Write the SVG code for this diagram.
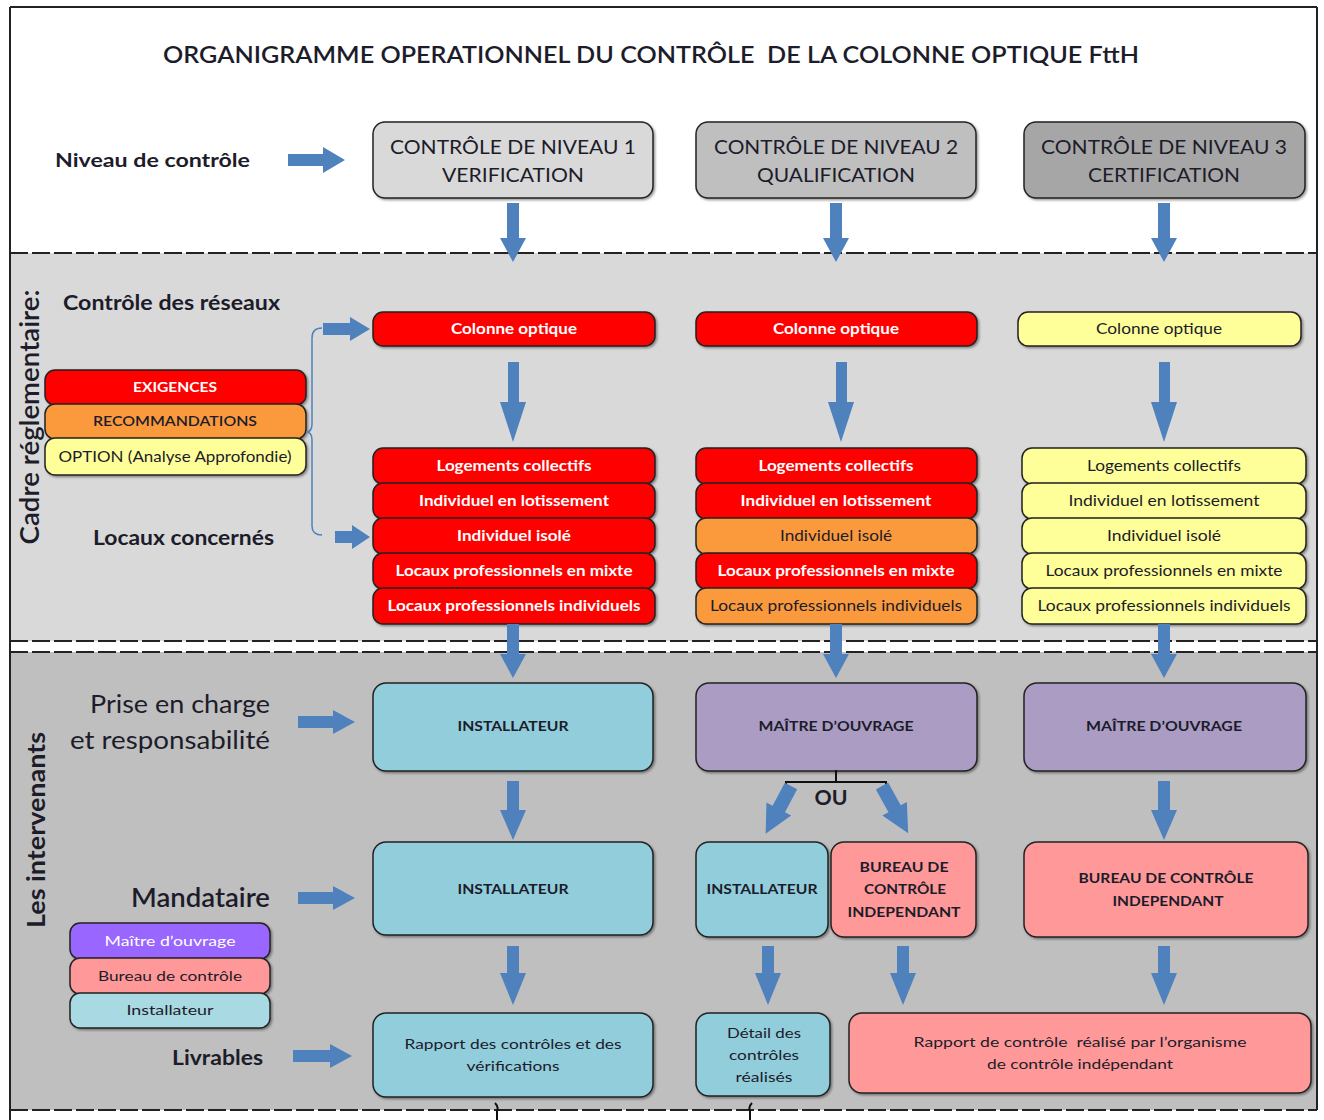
<svg xmlns="http://www.w3.org/2000/svg" width="1324" height="1120" viewBox="0 0 1324 1120">
<defs>
<filter id="sh" x="-5%" y="-10%" width="110%" height="130%">
<feDropShadow dx="1.5" dy="1.5" stdDeviation="1" flood-color="#000" flood-opacity="0.4"/>
</filter>
<style>
.t{font-family:Lato,"Liberation Sans",sans-serif;fill:#1c1c2a;text-anchor:middle}
.s{text-anchor:start}
.e{text-anchor:end}
.w{fill:#fff}
.b{font-weight:bold}
.m{font-weight:600}
.bx{stroke:#222;stroke-width:1.5;filter:url(#sh)}
.lv1{fill:#d9d9d9}.lv2{fill:#bfbfbf}.lv3{fill:#a6a6a6}
.red{fill:#ff0000}.org{fill:#fa9a3c}.yel{fill:#ffff99}
.inst{fill:#92cddc}.mo{fill:#ab9cc4}.bc{fill:#ff9999}
.legP{fill:#9966ff}.legB{fill:#a9d9e3}
.arr{fill:#4f81bd}
.dash{stroke:#222;stroke-width:2;stroke-dasharray:18 4;fill:none}
.frame{stroke:#222;stroke-width:2;fill:none}
</style>
</defs>

<!-- backgrounds -->
<rect x="0" y="0" width="1324" height="1120" fill="#fff"/>
<rect x="10" y="253" width="1307" height="388" fill="#d9d9d9"/>
<rect x="10" y="652" width="1307" height="458" fill="#bfbfbf"/>
<path class="frame" d="M10 7 H1317 M10 7 V1120 M1317 7 V1110"/>
<path class="dash" d="M10 253 H1317 M10 641 H1317 M10 652 H1317 M10 1110 H1317"/>
<path d="M495 1103 Q499 1107 497 1111 L497 1120 M752 1103 Q748 1107 750 1111 L750 1120" stroke="#111" stroke-width="2" fill="none"/>

<!-- title and side labels -->
<g id="labels">
<text class="t m" x="651" y="63" font-size="23" textLength="976" lengthAdjust="spacingAndGlyphs" style="white-space:pre">ORGANIGRAMME OPERATIONNEL DU CONTRÔLE  DE LA COLONNE OPTIQUE FttH</text>
<text class="t s b" x="55" y="167" font-size="19" textLength="195" lengthAdjust="spacingAndGlyphs">Niveau de contrôle</text>
<text class="t m" transform="translate(39 417) rotate(-90)" font-size="27" textLength="255" lengthAdjust="spacingAndGlyphs">Cadre réglementaire:</text>
<text class="t s b" x="63" y="310" font-size="20" textLength="217" lengthAdjust="spacingAndGlyphs">Contrôle des réseaux</text>
<text class="t s b" x="93" y="545" font-size="21" textLength="181" lengthAdjust="spacingAndGlyphs">Locaux concernés</text>
<text class="t b" transform="translate(45 830) rotate(-90)" font-size="25" textLength="196" lengthAdjust="spacingAndGlyphs">Les intervenants</text>
<text class="t e" x="270" y="713" font-size="25" textLength="180" lengthAdjust="spacingAndGlyphs">Prise en charge</text>
<text class="t e" x="270" y="749" font-size="25" textLength="200" lengthAdjust="spacingAndGlyphs">et responsabilité</text>
<text class="t e m" x="270" y="907" font-size="27" textLength="139" lengthAdjust="spacingAndGlyphs">Mandataire</text>
<text class="t e b" x="263" y="1065" font-size="20" textLength="91" lengthAdjust="spacingAndGlyphs">Livrables</text>
<text class="t b" x="831" y="805" font-size="21" textLength="33" lengthAdjust="spacingAndGlyphs">OU</text>
</g>

<!-- legend: cadre reglementaire -->
<g id="legend-exigences">
<rect class="bx red" x="45" y="370" width="261" height="35" rx="10"/>
<text class="t w b" x="175" y="392" font-size="14" textLength="84" lengthAdjust="spacingAndGlyphs">EXIGENCES</text>
</g>
<g id="legend-recommandations">
<rect class="bx org" x="45" y="404" width="261" height="35" rx="10"/>
<text class="t m" x="175" y="426" font-size="14" textLength="164" lengthAdjust="spacingAndGlyphs">RECOMMANDATIONS</text>
</g>
<g id="legend-option">
<rect class="bx yel" x="45" y="438" width="261" height="37" rx="10"/>
<text class="t" x="175" y="462" font-size="15" textLength="233" lengthAdjust="spacingAndGlyphs">OPTION (Analyse Approfondie)</text>
</g>

<!-- legend: intervenants -->
<g id="legend-mo">
<rect class="bx legP" x="70" y="923" width="200" height="36" rx="10"/>
<text class="t w" x="170" y="946" font-size="14" textLength="131" lengthAdjust="spacingAndGlyphs">Maître d’ouvrage</text>
</g>
<g id="legend-bc">
<rect class="bx bc" x="70" y="958" width="200" height="36" rx="10"/>
<text class="t" x="170" y="981" font-size="14" textLength="144" lengthAdjust="spacingAndGlyphs">Bureau de contrôle</text>
</g>
<g id="legend-inst">
<rect class="bx legB" x="70" y="993" width="200" height="35" rx="10"/>
<text class="t" x="170" y="1015" font-size="14" textLength="87" lengthAdjust="spacingAndGlyphs">Installateur</text>
</g>

<!-- level boxes -->
<g id="niveau1">
<rect class="bx lv1" x="373" y="122" width="280" height="76" rx="12"/>
<text class="t" x="513" y="154" font-size="20" textLength="246" lengthAdjust="spacingAndGlyphs">CONTRÔLE DE NIVEAU 1</text>
<text class="t" x="513" y="182" font-size="20" textLength="142" lengthAdjust="spacingAndGlyphs">VERIFICATION</text>
</g>
<g id="niveau2">
<rect class="bx lv2" x="696" y="122" width="280" height="76" rx="12"/>
<text class="t" x="836" y="154" font-size="20" textLength="244" lengthAdjust="spacingAndGlyphs">CONTRÔLE DE NIVEAU 2</text>
<text class="t" x="836" y="182" font-size="20" textLength="158" lengthAdjust="spacingAndGlyphs">QUALIFICATION</text>
</g>
<g id="niveau3">
<rect class="bx lv3" x="1024" y="122" width="281" height="76" rx="12"/>
<text class="t" x="1164" y="154" font-size="20" textLength="246" lengthAdjust="spacingAndGlyphs">CONTRÔLE DE NIVEAU 3</text>
<text class="t" x="1164" y="182" font-size="20" textLength="152" lengthAdjust="spacingAndGlyphs">CERTIFICATION</text>
</g>

<!-- colonne optique -->
<g id="colonne1">
<rect class="bx red" x="373" y="312" width="282" height="34" rx="10"/>
<text class="t w b" x="514" y="334" font-size="15" textLength="126" lengthAdjust="spacingAndGlyphs">Colonne optique</text>
</g>
<g id="colonne2">
<rect class="bx red" x="696" y="312" width="281" height="34" rx="10"/>
<text class="t w b" x="836" y="334" font-size="15" textLength="126" lengthAdjust="spacingAndGlyphs">Colonne optique</text>
</g>
<g id="colonne3">
<rect class="bx yel" x="1018" y="312" width="283" height="34" rx="10"/>
<text class="t" x="1159" y="334" font-size="15" textLength="126" lengthAdjust="spacingAndGlyphs">Colonne optique</text>
</g>

<!-- locaux column 1 -->
<g id="locaux1">
<rect class="bx red" x="373" y="448" width="282" height="36" rx="10"/>
<text class="t w b" x="514" y="471" font-size="15" textLength="155" lengthAdjust="spacingAndGlyphs">Logements collectifs</text>
<rect class="bx red" x="373" y="483" width="282" height="36" rx="10"/>
<text class="t w b" x="514" y="506" font-size="15" textLength="190" lengthAdjust="spacingAndGlyphs">Individuel en lotissement</text>
<rect class="bx red" x="373" y="518" width="282" height="36" rx="10"/>
<text class="t w b" x="514" y="541" font-size="15" textLength="114" lengthAdjust="spacingAndGlyphs">Individuel isolé</text>
<rect class="bx red" x="373" y="553" width="282" height="36" rx="10"/>
<text class="t w b" x="514" y="576" font-size="15" textLength="237" lengthAdjust="spacingAndGlyphs">Locaux professionnels en mixte</text>
<rect class="bx red" x="373" y="588" width="282" height="36" rx="10"/>
<text class="t w b" x="514" y="611" font-size="15" textLength="253" lengthAdjust="spacingAndGlyphs">Locaux professionnels individuels</text>
</g>

<!-- locaux column 2 -->
<g id="locaux2">
<rect class="bx red" x="696" y="448" width="281" height="36" rx="10"/>
<text class="t w b" x="836" y="471" font-size="15" textLength="155" lengthAdjust="spacingAndGlyphs">Logements collectifs</text>
<rect class="bx red" x="696" y="483" width="281" height="36" rx="10"/>
<text class="t w b" x="836" y="506" font-size="15" textLength="191" lengthAdjust="spacingAndGlyphs">Individuel en lotissement</text>
<rect class="bx org" x="696" y="518" width="281" height="36" rx="10"/>
<text class="t" x="836" y="541" font-size="15" textLength="112" lengthAdjust="spacingAndGlyphs">Individuel isolé</text>
<rect class="bx red" x="696" y="553" width="281" height="36" rx="10"/>
<text class="t w b" x="836" y="576" font-size="15" textLength="237" lengthAdjust="spacingAndGlyphs">Locaux professionnels en mixte</text>
<rect class="bx org" x="696" y="588" width="281" height="36" rx="10"/>
<text class="t" x="836" y="611" font-size="15" textLength="252" lengthAdjust="spacingAndGlyphs">Locaux professionnels individuels</text>
</g>

<!-- locaux column 3 -->
<g id="locaux3">
<rect class="bx yel" x="1022" y="448" width="284" height="36" rx="10"/>
<text class="t" x="1164" y="471" font-size="15" textLength="154" lengthAdjust="spacingAndGlyphs">Logements collectifs</text>
<rect class="bx yel" x="1022" y="483" width="284" height="36" rx="10"/>
<text class="t" x="1164" y="506" font-size="15" textLength="191" lengthAdjust="spacingAndGlyphs">Individuel en lotissement</text>
<rect class="bx yel" x="1022" y="518" width="284" height="36" rx="10"/>
<text class="t" x="1164" y="541" font-size="15" textLength="114" lengthAdjust="spacingAndGlyphs">Individuel isolé</text>
<rect class="bx yel" x="1022" y="553" width="284" height="36" rx="10"/>
<text class="t" x="1164" y="576" font-size="15" textLength="237" lengthAdjust="spacingAndGlyphs">Locaux professionnels en mixte</text>
<rect class="bx yel" x="1022" y="588" width="284" height="36" rx="10"/>
<text class="t" x="1164" y="611" font-size="15" textLength="253" lengthAdjust="spacingAndGlyphs">Locaux professionnels individuels</text>
</g>

<!-- intervenants row 1 -->
<g id="installateur1">
<rect class="bx inst" x="373" y="683" width="280" height="88" rx="13"/>
<text class="t b" x="513" y="731" font-size="14" textLength="111" lengthAdjust="spacingAndGlyphs">INSTALLATEUR</text>
</g>
<g id="maitre2">
<rect class="bx mo" x="696" y="683" width="281" height="88" rx="13"/>
<text class="t b" x="836" y="731" font-size="14" textLength="155" lengthAdjust="spacingAndGlyphs">MAÎTRE D’OUVRAGE</text>
</g>
<g id="maitre3">
<rect class="bx mo" x="1024" y="683" width="282" height="88" rx="13"/>
<text class="t b" x="1164" y="731" font-size="14" textLength="156" lengthAdjust="spacingAndGlyphs">MAÎTRE D’OUVRAGE</text>
</g>

<!-- row 2 -->
<g id="installateur1b">
<rect class="bx inst" x="373" y="842" width="280" height="93" rx="13"/>
<text class="t b" x="513" y="894" font-size="14" textLength="111" lengthAdjust="spacingAndGlyphs">INSTALLATEUR</text>
</g>
<g id="installateur2">
<rect class="bx inst" x="696" y="842" width="132" height="95" rx="13"/>
<text class="t b" x="762" y="894" font-size="14" textLength="111" lengthAdjust="spacingAndGlyphs">INSTALLATEUR</text>
</g>
<g id="bureau2">
<rect class="bx bc" x="831" y="842" width="145" height="95" rx="13"/>
<text class="t b" x="904" y="872" font-size="14" textLength="89" lengthAdjust="spacingAndGlyphs">BUREAU DE</text>
<text class="t b" x="905" y="894" font-size="14" textLength="82" lengthAdjust="spacingAndGlyphs">CONTRÔLE</text>
<text class="t b" x="904" y="917" font-size="14" textLength="113" lengthAdjust="spacingAndGlyphs">INDEPENDANT</text>
</g>
<g id="bureau3">
<rect class="bx bc" x="1024" y="842" width="284" height="95" rx="13"/>
<text class="t b" x="1166" y="883" font-size="14" textLength="175" lengthAdjust="spacingAndGlyphs">BUREAU DE CONTRÔLE</text>
<text class="t b" x="1168" y="906" font-size="14" textLength="111" lengthAdjust="spacingAndGlyphs">INDEPENDANT</text>
</g>

<!-- row 3 -->
<g id="rapport1">
<rect class="bx inst" x="373" y="1013" width="280" height="84" rx="13"/>
<text class="t" x="513" y="1049" font-size="14" textLength="217" lengthAdjust="spacingAndGlyphs">Rapport des contrôles et des</text>
<text class="t" x="513" y="1071" font-size="14" textLength="93" lengthAdjust="spacingAndGlyphs">vérifications</text>
</g>
<g id="detail2">
<rect class="bx inst" x="696" y="1013" width="134" height="83" rx="13"/>
<text class="t" x="764" y="1038" font-size="14" textLength="74" lengthAdjust="spacingAndGlyphs">Détail des</text>
<text class="t" x="764" y="1060" font-size="14" textLength="70" lengthAdjust="spacingAndGlyphs">contrôles</text>
<text class="t" x="764" y="1082" font-size="14" textLength="57" lengthAdjust="spacingAndGlyphs">réalisés</text>
</g>
<g id="rapport3">
<rect class="bx bc" x="849" y="1013" width="462" height="80" rx="13"/>
<text class="t" x="1080" y="1047" font-size="14" textLength="333" lengthAdjust="spacingAndGlyphs" style="white-space:pre">Rapport de contrôle  réalisé par l’organisme</text>
<text class="t" x="1080" y="1069" font-size="14" textLength="186" lengthAdjust="spacingAndGlyphs">de contrôle indépendant</text>
</g>

<!-- connectors -->
<g id="connectors">
<path d="M322 328 Q312 328 312 338 L312 424 Q312 432 306 432 Q312 432 312 440 L312 526 Q312 535 322 535" stroke="#4f81bd" stroke-width="1.5" fill="none"/>
<path d="M786 790 L786 782 L886 782 L886 790 M836 782 L836 770" stroke="#111" stroke-width="2" fill="none"/>
<!-- right arrows -->
<polygon class="arr" points="288,154 323,154 323,147 345,160 323,173 323,166 288,166"/>
<polygon class="arr" points="323,323 350,323 350,317 370,329 350,341 350,335 323,335"/>
<polygon class="arr" points="335,531 352,531 352,525 370,537 352,549 352,543 335,543"/>
<polygon class="arr" points="298,716 333,716 333,710 355,722 333,734 333,728 298,728"/>
<polygon class="arr" points="298,892 333,892 333,886 355,898 333,910 333,904 298,904"/>
<polygon class="arr" points="293,1050 330,1050 330,1044 352,1056 330,1068 330,1062 293,1062"/>
<!-- down arrows: level boxes -->
<polygon class="arr" points="507,203 519,203 519,238 526,238 513,262 500,238 507,238"/>
<polygon class="arr" points="830,203 842,203 842,238 849,238 836,262 823,238 830,238"/>
<polygon class="arr" points="1158,203 1170,203 1170,238 1177,238 1164,262 1151,238 1158,238"/>
<!-- colonne to locaux -->
<polygon class="arr" points="508,362 519,362 519,402 526,402 513,442 500,402 508,402"/>
<polygon class="arr" points="836,362 847,362 847,402 854,402 841,442 828,402 836,402"/>
<polygon class="arr" points="1159,362 1170,362 1170,402 1177,402 1164,442 1151,402 1159,402"/>
<!-- locaux to intervenants -->
<polygon class="arr" points="507,624 519,624 519,654 526,654 513,678 500,654 507,654"/>
<polygon class="arr" points="830,624 842,624 842,654 849,654 836,678 823,654 830,654"/>
<polygon class="arr" points="1158,624 1170,624 1170,654 1177,654 1164,678 1151,654 1158,654"/>
<!-- row1 to row2 -->
<polygon class="arr" points="507,781 519,781 519,810 526,810 513,840 500,810 507,810"/>
<polygon class="arr" points="1158,781 1170,781 1170,810 1177,810 1164,840 1151,810 1158,810"/>
<polygon class="arr" points="-7,0 7,0 7,26 14,26 0,54 -14,26 -7,26" transform="translate(791 786) rotate(28)"/>
<polygon class="arr" points="-7,0 7,0 7,26 14,26 0,54 -14,26 -7,26" transform="translate(882 786) rotate(-29)"/>
<!-- row2 to row3 -->
<polygon class="arr" points="507,946 519,946 519,973 526,973 513,1005 500,973 507,973"/>
<polygon class="arr" points="762,946 774,946 774,973 781,973 768,1005 755,973 762,973"/>
<polygon class="arr" points="897,946 909,946 909,973 916,973 903,1005 890,973 897,973"/>
<polygon class="arr" points="1158,946 1170,946 1170,973 1177,973 1164,1005 1151,973 1158,973"/>
</g>
</svg>
